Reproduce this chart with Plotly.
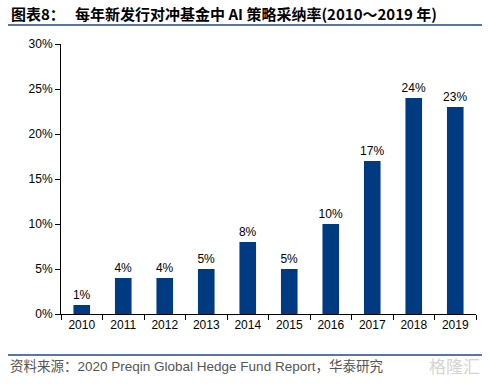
import plotly.graph_objects as go

years = ["2010", "2011", "2012", "2013", "2014", "2015", "2016", "2017", "2018", "2019"]
rates = [1, 4, 4, 5, 8, 5, 10, 17, 24, 23]
y_ticks = [0, 5, 10, 15, 20, 25, 30]
y_tick_labels = ["0%", "5%", "10%", "15%", "20%", "25%", "30%"]

W, H = 489, 384
L, R, T, B = 61, 13, 44, 70
pw, ph = W - L - R, H - T - B

def px(x):
    return (x - L) / pw

def py(y):
    return (H - B - y) / ph

fig = go.Figure(go.Bar(
    x=years, y=rates,
    marker=dict(color="#003a80", line=dict(width=0)),
    width=0.4,
    text=[f"{v}%" for v in rates],
    textposition="outside",
    constraintext="none",
    textfont=dict(family="Arial, Liberation Sans", size=12, color="#000000"),
    cliponaxis=False,
))

fig.update_layout(
    width=W, height=H,
    margin=dict(l=L, r=R, t=T, b=B),
    plot_bgcolor="white", paper_bgcolor="white",
    showlegend=False,
    font=dict(family="Arial, Liberation Sans", size=12, color="#000000"),
    xaxis=dict(
        type="category", showline=True, linecolor="#000000", linewidth=1,
        ticks="outside", tickson="boundaries", ticklen=5, tickcolor="#000000",
        showgrid=False, tickfont=dict(size=12, color="#000000"),
    ),
    yaxis=dict(
        range=[0, 30], tickvals=y_ticks, ticktext=y_tick_labels,
        showline=True, linecolor="#000000", linewidth=1,
        ticks="outside", ticklen=5, tickcolor="#000000",
        showgrid=False, zeroline=False, tickfont=dict(size=12, color="#000000"),
    ),
    shapes=[
        dict(type="line", xref="paper", yref="paper", x0=px(8), x1=px(482), y0=py(25), y1=py(25),
             line=dict(color="#5676a6", width=2)),
        dict(type="line", xref="paper", yref="paper", x0=px(8), x1=px(482), y0=py(355), y1=py(355),
             line=dict(color="#5676a6", width=2)),
    ],
    annotations=[
        dict(xref="paper", yref="paper", x=px(9), y=py(14), xanchor="left", yanchor="middle",
             text="<b>图表8：   每年新发行对冲基金中 AI 策略采纳率(2010～2019 年)</b>",
             showarrow=False, font=dict(family="Noto Sans CJK SC, Arial", size=15, color="#000000")),
        dict(xref="paper", yref="paper", x=px(8), y=py(366), xanchor="left", yanchor="middle",
             text="资料来源：2020 Preqin Global Hedge Fund Report，华泰研究",
             showarrow=False, font=dict(family="Arial, Noto Sans CJK SC", size=13.5, color="#555555")),
        dict(xref="paper", yref="paper", x=px(482), y=py(365), xanchor="right", yanchor="middle",
             text="格隆汇",
             showarrow=False, font=dict(family="Noto Sans CJK SC", size=17, color="#d4d4d4")),
    ],
)

fig.write_html("out.html", config={"displayModeBar": False},
               post_script="document.body.style.margin='0';document.body.style.padding='0';")
